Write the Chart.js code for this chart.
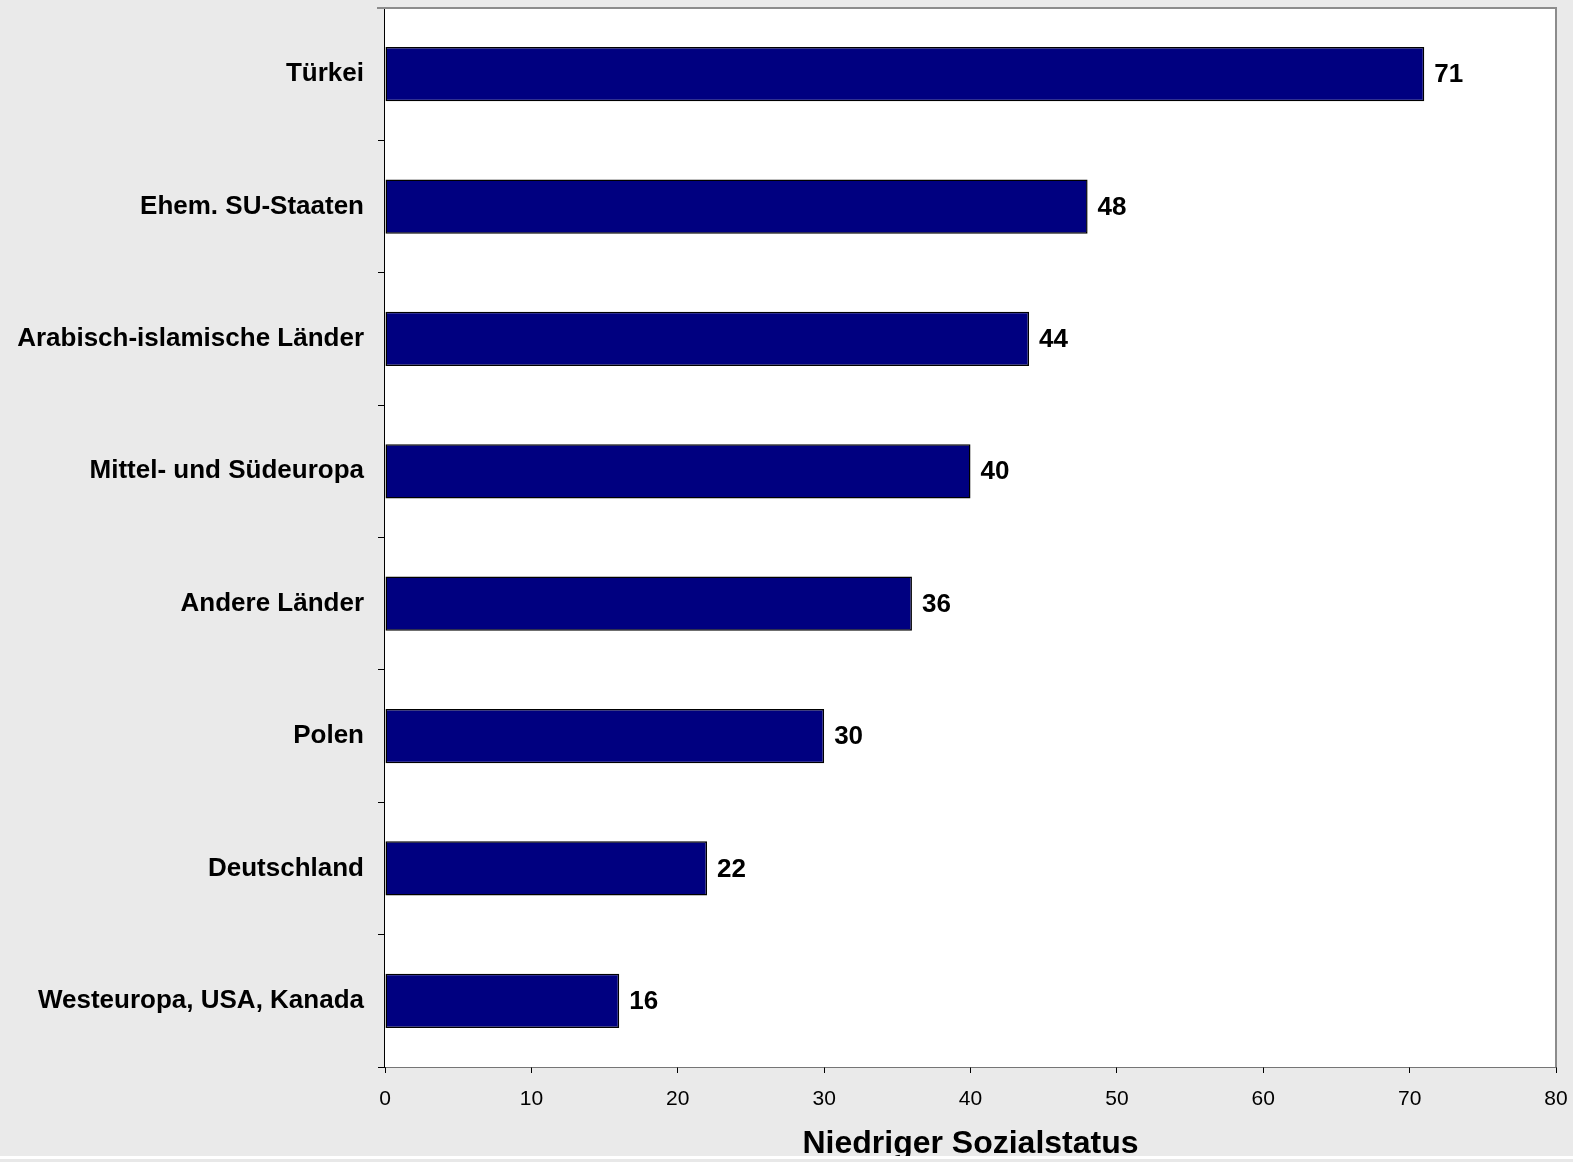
<!DOCTYPE html>
<html lang="de">
<head>
<meta charset="utf-8">
<title>Niedriger Sozialstatus</title>
<script src="https://cdn.jsdelivr.net/npm/chart.js@4/dist/chart.umd.min.js"></script>
<style>
    html, body {
        margin: 0;
        padding: 0;
        background: #eaeaea;
        overflow: hidden;
    }
    #chart-wrap {
        position: relative;
        width: 1573px;
        height: 1162px;
    }
    #bottom-strip {
        position: absolute;
        left: 0;
        top: 1156px;
        width: 1573px;
        height: 3px;
        background: #ffffff;
    }
    #bottom-edge {
        position: absolute;
        left: 0;
        top: 1159px;
        width: 1573px;
        height: 3px;
        background: #e8e8e8;
    }
</style>
</head>
<body>
<div id="chart-wrap">
    <canvas id="status-chart"></canvas>
    <div id="bottom-strip"></div>
    <div id="bottom-edge"></div>
</div>
<script>
const regions = [
    'Türkei',
    'Ehem. SU-Staaten',
    'Arabisch-islamische Länder',
    'Mittel- und Südeuropa',
    'Andere Länder',
    'Polen',
    'Deutschland',
    'Westeuropa, USA, Kanada'
];
const lowStatusShare = [71, 48, 44, 40, 36, 30, 22, 16];
const axisMin = 0;
const axisMax = 80;
const axisStep = 10;

const plotArea = { left: 385, top: 8, right: 1556, bottom: 1067 };
const fontFamily = 'Arial, "Liberation Sans", sans-serif';

// gray frame around plot, white fill behind bars
const plotFrame = {
    id: 'plotFrame',
    beforeDatasetsDraw(chart) {
        const { ctx, chartArea } = chart;
        ctx.save();
        ctx.fillStyle = '#ffffff';
        ctx.fillRect(chartArea.left, chartArea.top, chartArea.width, chartArea.height);
        ctx.strokeStyle = '#8c8c8c';
        ctx.lineWidth = 2;
        ctx.beginPath();
        ctx.moveTo(chartArea.left - 8, chartArea.top);
        ctx.lineTo(chartArea.right, chartArea.top);
        ctx.lineTo(chartArea.right, chartArea.bottom);
        ctx.stroke();
        ctx.restore();
    }
};

const valueLabels = {
    id: 'valueLabels',
    afterDatasetsDraw(chart) {
        const { ctx } = chart;
        const meta = chart.getDatasetMeta(0);
        ctx.save();
        ctx.font = 'bold 26px ' + fontFamily;
        ctx.fillStyle = '#000000';
        ctx.textAlign = 'left';
        ctx.textBaseline = 'middle';
        meta.data.forEach((bar, i) => {
            ctx.fillText(String(lowStatusShare[i]), bar.x + 10, bar.y + 1);
        });
        ctx.restore();
    }
};

const config = {
    type: 'bar',
    data: {
        labels: regions,
        datasets: [{
            data: lowStatusShare,
            backgroundColor: '#000080',
            borderColor: '#000000',
            borderWidth: 1.5,
            borderSkipped: false,
            barPercentage: 0.41,
            categoryPercentage: 1
        }]
    },
    options: {
        indexAxis: 'y',
        responsive: true,
        maintainAspectRatio: false,
        animation: false,
        layout: {
            padding: { top: plotArea.top, right: 1573 - plotArea.right, left: 0, bottom: 0 }
        },
        plugins: {
            legend: { display: false },
            tooltip: { enabled: false }
        },
        scales: {
            x: {
                min: axisMin,
                max: axisMax,
                ticks: {
                    stepSize: axisStep,
                    color: '#000000',
                    padding: 14,
                    font: { family: fontFamily, size: 21 }
                },
                grid: {
                    drawOnChartArea: false,
                    drawTicks: true,
                    tickLength: 6,
                    color: '#000000'
                },
                border: { color: '#000000', width: 1.5 },
                title: {
                    display: true,
                    text: 'Niedriger Sozialstatus',
                    color: '#000000',
                    padding: { top: 0, bottom: 0 },
                    font: { family: fontFamily, size: 32, weight: 'bold', lineHeight: 1.1 }
                },
                afterFit(scale) {
                    scale.height = 1162 - plotArea.bottom;
                    scale.paddingLeft = 0;
                    scale.paddingRight = 0;
                }
            },
            y: {
                ticks: {
                    color: '#000000',
                    padding: 14,
                    font: { family: fontFamily, size: 26, weight: 'bold' }
                },
                grid: {
                    drawOnChartArea: false,
                    drawTicks: true,
                    tickLength: 7,
                    offset: true,
                    color: '#000000'
                },
                border: { color: '#000000', width: 1.5 },
                afterFit(scale) {
                    scale.width = plotArea.left;
                    scale.paddingTop = 0;
                    scale.paddingBottom = 0;
                }
            }
        }
    },
    plugins: [plotFrame, valueLabels]
};

document.addEventListener('DOMContentLoaded', () => {
    const canvas = document.getElementById('status-chart');
    new Chart(canvas, config);
});
</script>
</body>
</html>
